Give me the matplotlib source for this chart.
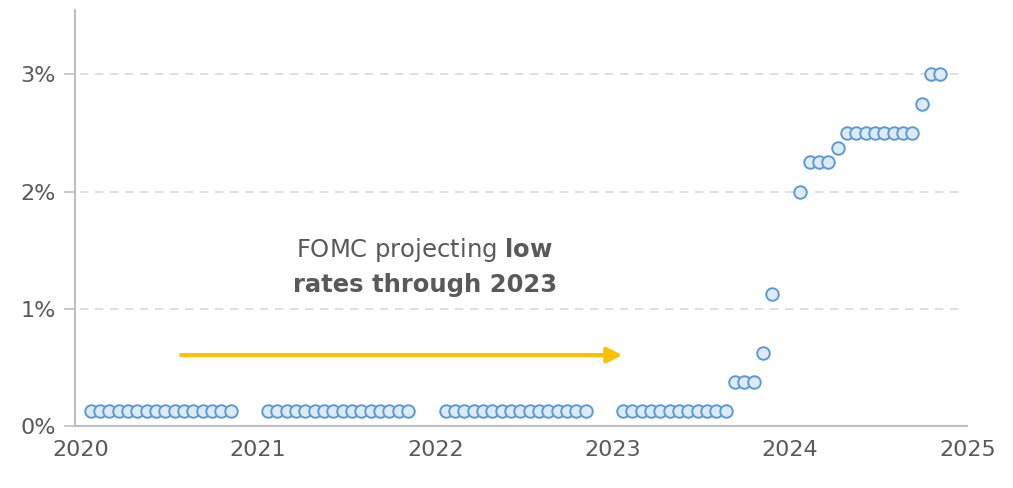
import matplotlib
matplotlib.use('Agg')
from matplotlib import pyplot as plt

plt.rcParams['font.family'] = ['DejaVu Sans']
plt.rcParams['mathtext.fontset'] = 'custom'
plt.rcParams['mathtext.rm'] = 'DejaVu Sans'
plt.rcParams['mathtext.bf'] = 'DejaVu Sans:bold'

# projected rate (%) per dot, grouped by year
years = [2020, 2021, 2022, 2023, 2024]
rates_2020 = [0.125] * 16
rates_2021 = [0.125] * 16
rates_2022 = [0.125] * 16
rates_2023 = [0.125] * 12 + [0.375] * 3 + [0.625, 1.125]
rates_2024 = [2.0, 2.25, 2.25, 2.25, 2.375] + [2.5] * 8 + [2.75, 3.0, 3.0]
rates_by_year = [rates_2020, rates_2021, rates_2022, rates_2023, rates_2024]

y_ticks = [0, 1, 2, 3]
y_labels = ['0%', '1%', '2%', '3%']
x_ticks = [2020, 2021, 2022, 2023, 2024, 2025]

GREY = '#595959'
AXIS = '#bfbfbf'

fig = plt.figure(figsize=(10.13, 4.88), dpi=100)
ax = fig.add_axes([0.074, 0.127, 0.881, 0.853])

xs, ys = [], []
for yr, rates in zip(years, rates_by_year):
    for i, r in enumerate(rates):
        xs.append(yr + (i + 1.1) / 19.0)
        ys.append(r)

ax.scatter(xs, ys, s=9.0 ** 2, facecolor='#deebf7', edgecolor='#5b9bd5',
           linewidth=1.4, zorder=3)

ax.set_xlim(2019.969, 2025.0)
ax.set_ylim(0, 3.55)

ax.set_yticks(y_ticks)
ax.set_yticklabels(y_labels)
ax.set_xticks(x_ticks)
ax.tick_params(axis='y', length=8, width=1.2, color=AXIS, labelsize=16,
               labelcolor=GREY, pad=6)
ax.tick_params(axis='x', length=0, labelsize=16, labelcolor=GREY, pad=10)

for sp in ['top', 'right']:
    ax.spines[sp].set_visible(False)
for sp in ['left', 'bottom']:
    ax.spines[sp].set_color(AXIS)
    ax.spines[sp].set_linewidth(1.5)

for g in [1, 2, 3]:
    ax.plot([2020.0, 2024.95], [g, g], color='#d9d9d9', lw=1.2,
            dashes=(5, 4), zorder=1)

# arrow
ax.annotate('', xy=(2023.055, 0.605), xytext=(2020.567, 0.605),
            arrowprops=dict(arrowstyle='-|>,head_length=0.9,head_width=0.45',
                            color='#ffc000', lw=3, shrinkA=0, shrinkB=0))

ax.text(2021.94, 1.44, r'FOMC projecting $\mathbf{low}$', ha='center',
        va='baseline', fontsize=17.5, color=GREY)
ax.text(2021.94, 1.14, 'rates through 2023', ha='center', va='baseline',
        fontsize=17.5, color=GREY, fontweight='bold')

fig.savefig('out.png', dpi=100)
